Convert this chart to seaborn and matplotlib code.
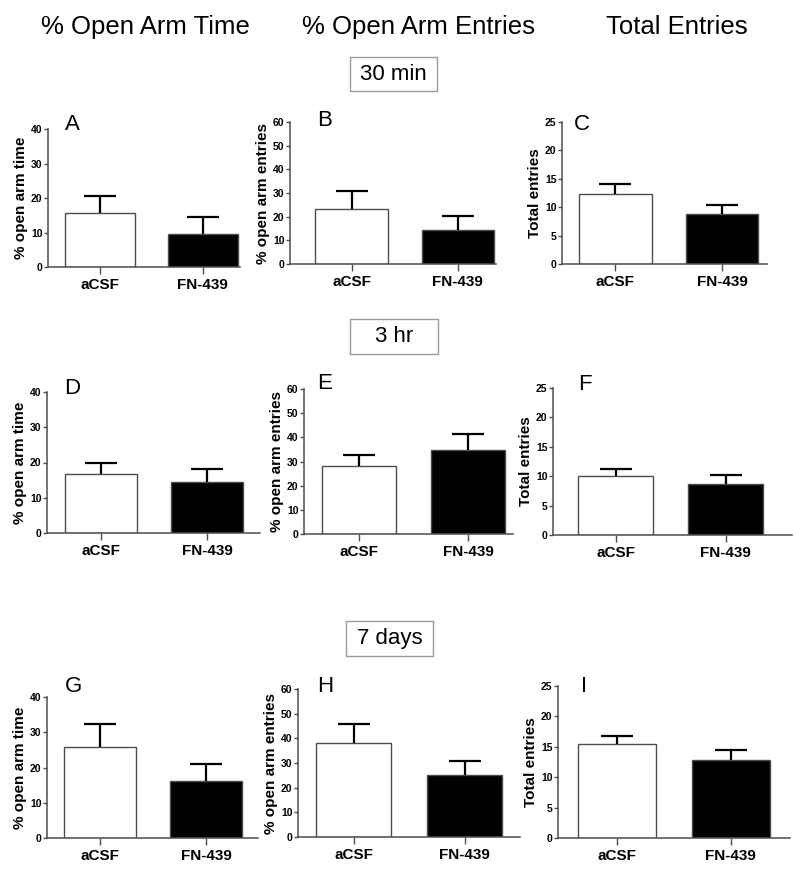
import matplotlib
matplotlib.use("Agg")
import matplotlib.pyplot as plt
from matplotlib.patches import Rectangle
import seaborn as sns

# groups and values (mean, SEM)
groups = ["aCSF", "FN-439"]
bar_colors = ["white", "black"]

time_30min = [15.6, 9.5]
time_30min_sem = [5.1, 4.9]
entries_30min = [23.4, 14.4]
entries_30min_sem = [7.6, 5.9]
total_30min = [12.3, 8.8]
total_30min_sem = [1.8, 1.6]

time_3hr = [16.6, 14.6]
time_3hr_sem = [3.3, 3.5]
entries_3hr = [28.2, 34.6]
entries_3hr_sem = [4.6, 6.7]
total_3hr = [10.0, 8.6]
total_3hr_sem = [1.3, 1.6]

time_7days = [25.9, 16.1]
time_7days_sem = [6.3, 4.9]
entries_7days = [38.0, 25.1]
entries_7days_sem = [7.8, 5.8]
total_7days = [15.4, 12.9]
total_7days_sem = [1.4, 1.6]

col_titles = ["% Open Arm Time", "% Open Arm Entries", "Total Entries"]
time_points = ["30 min", "3 hr", "7 days"]
y_labels = ["% open arm time", "% open arm entries", "Total entries"]
y_max = [40, 60, 25]
y_step = [10, 10, 5]
letters = ["A", "B", "C", "D", "E", "F", "G", "H", "I"]

W, H = 800, 872

sns.set_style("ticks")
plt.rcParams["font.family"] = ["Liberation Sans", "DejaVu Sans"]
plt.rcParams["text.color"] = "black"
plt.rcParams["axes.labelcolor"] = "black"
plt.rcParams["xtick.labelcolor"] = "black"
plt.rcParams["ytick.labelcolor"] = "black"

fig = plt.figure(figsize=(W / 100, H / 100), dpi=100)


def px_axes(x0, x1, y_zero, y_top):
    return fig.add_axes([x0 / W, 1 - y_zero / H, (x1 - x0) / W, (y_zero - y_top) / H])


# panel geometry in pixels: x0, x1, y of zero, y of top tick, x-limits
panels = [
    (48, 240, 267, 129, (-0.5, 1.36)),
    (290, 496, 264, 122, (-0.58, 1.36)),
    (562, 767, 264, 122, (-0.5, 1.42)),
    (47, 260, 533, 392, (-0.51, 1.5)),
    (304, 513, 534, 389, (-0.5, 1.41)),
    (553, 792, 535, 388, (-0.57, 1.6)),
    (47, 258, 838, 697, (-0.5, 1.49)),
    (298, 520, 837, 689, (-0.5, 1.5)),
    (558, 790, 838, 686, (-0.52, 1.52)),
]
letter_pos = [(72, 124), (325, 121), (582, 124),
              (72, 388), (325, 383), (585, 384),
              (73, 686), (325, 686), (584, 686)]

means = [time_30min, entries_30min, total_30min,
         time_3hr, entries_3hr, total_3hr,
         time_7days, entries_7days, total_7days]
sems = [time_30min_sem, entries_30min_sem, total_30min_sem,
        time_3hr_sem, entries_3hr_sem, total_3hr_sem,
        time_7days_sem, entries_7days_sem, total_7days_sem]

spine_col = "#4d4d4d"

for i, (x0, x1, yz, yt, xl) in enumerate(panels):
    col = i % 3
    ax = px_axes(x0, x1, yz, yt)
    sns.barplot(x=groups, y=means[i], hue=groups, palette=bar_colors,
                edgecolor=spine_col, linewidth=1.0, width=0.68,
                errorbar=None, legend=False, ax=ax)
    # upper-only SEM bars, hide the cap at the bar top
    eb = ax.errorbar(x=range(len(groups)), y=means[i], yerr=[[0, 0], sems[i]],
                     fmt="none", ecolor="black", elinewidth=1.6,
                     capsize=11.5, capthick=1.6, zorder=1)
    eb[1][0].set_visible(False)
    ax.set_xlim(*xl)
    ax.set_ylim(0, y_max[col])
    ax.set_yticks(range(0, y_max[col] + 1, y_step[col]))
    ax.set_ylabel(y_labels[col], fontsize=11, fontweight="bold", labelpad=2)
    ax.set_xlabel("")
    sns.despine(ax=ax)
    for s in ["left", "bottom"]:
        ax.spines[s].set_color(spine_col)
        ax.spines[s].set_linewidth(1.1)
    ax.tick_params(axis="y", labelsize=7.5, length=3, width=1, color=spine_col, pad=1)
    ax.tick_params(axis="x", labelsize=11, length=5, width=1, color=spine_col, pad=3)
    for lab in ax.get_yticklabels() + ax.get_xticklabels():
        lab.set_fontweight("bold")
    lx, ly = letter_pos[i]
    fig.text(lx / W, 1 - ly / H, letters[i], fontsize=16, ha="center", va="center")

# column headers
for x, t in zip([145, 418, 677], col_titles):
    fig.text(x / W, 1 - 27 / H, t, fontsize=18.5, ha="center", va="center")

# time point boxes
boxes = [(350, 57, 437, 91), (350, 319, 438, 354), (346, 621, 433, 656)]
for (bx0, by0, bx1, by1), t in zip(boxes, time_points):
    fig.patches.append(Rectangle((bx0 / W, 1 - by1 / H), (bx1 - bx0) / W, (by1 - by0) / H,
                                 transform=fig.transFigure, fill=False,
                                 edgecolor="#999999", linewidth=1.0))
    fig.text((bx0 + bx1) / 2 / W, 1 - (by0 + by1) / 2 / H, t,
             fontsize=16, ha="center", va="center")

fig.savefig("out.png", dpi=100)
